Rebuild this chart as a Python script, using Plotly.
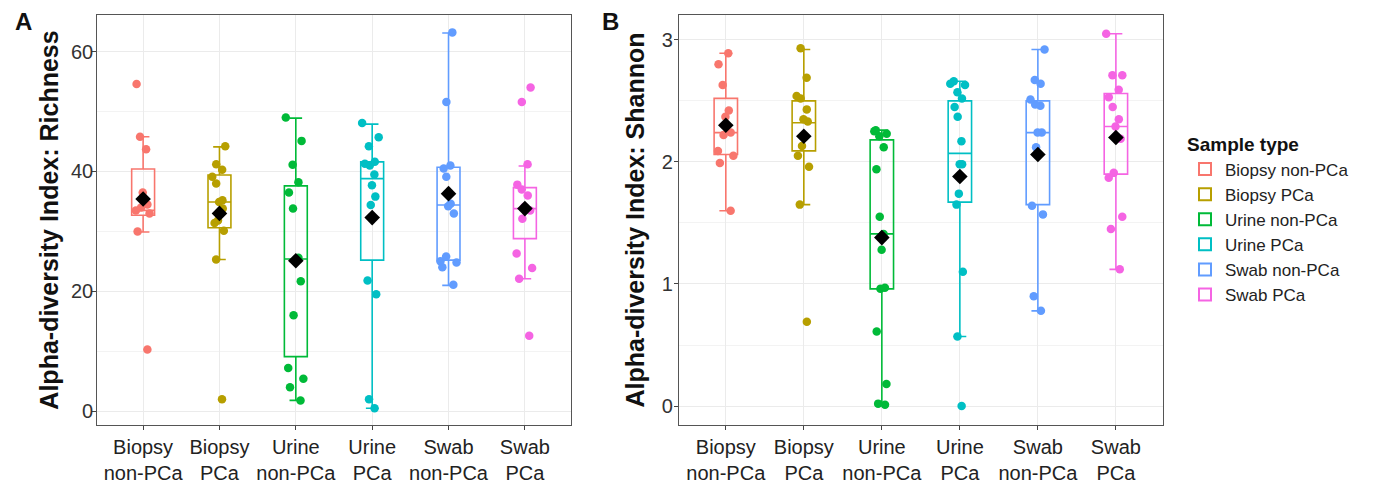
import plotly.graph_objects as go

# ---------------- data ----------------
categories = ["Biopsy<br>non-PCa", "Biopsy<br>PCa", "Urine<br>non-PCa",
              "Urine<br>PCa", "Swab<br>non-PCa", "Swab<br>PCa"]
legend_names = ["Biopsy non-PCa", "Biopsy PCa", "Urine non-PCa",
                "Urine PCa", "Swab non-PCa", "Swab PCa"]
colors = ["#F8766D", "#B79F00", "#00BA38", "#00BFC4", "#619CFF", "#F564E3"]

# Panel A: Richness (individual samples)
rich_biopsy_nonpca = [54.6, 45.8, 43.7, 36.5, 34.5, 34.0, 33.5, 33.0, 30.0, 10.3]
rich_biopsy_pca = [44.2, 41.2, 40.3, 39.1, 38.0, 35.2, 34.9, 33.8, 31.8, 31.4, 30.1, 25.3, 2.0]
rich_urine_nonpca = [49.0, 45.1, 41.1, 38.2, 36.5, 33.8, 25.6, 25.0, 21.7, 16.0, 7.2, 5.4, 4.0, 1.8]
rich_urine_pca = [48.1, 45.7, 44.2, 41.6, 41.3, 41.0, 39.5, 37.7, 35.8, 34.4, 21.8, 19.5, 2.0, 0.5]
rich_swab_nonpca = [63.2, 51.6, 41.0, 40.5, 39.1, 34.6, 34.2, 33.0, 25.8, 25.0, 24.8, 24.0, 21.1]
rich_swab_pca = [54.0, 51.6, 41.2, 37.8, 37.0, 36.0, 34.1, 33.5, 32.1, 26.3, 23.9, 22.1, 12.6]

# Panel A box statistics
rich_q1 = [32.7, 30.6, 9.1, 25.2, 25.2, 28.8]
rich_median = [33.5, 34.9, 25.4, 38.8, 34.4, 33.8]
rich_q3 = [40.4, 39.4, 37.6, 41.6, 40.7, 37.3]
rich_lower = [29.9, 25.3, 1.8, 0.5, 21.0, 22.1]
rich_upper = [45.8, 44.1, 48.9, 47.9, 63.1, 40.9]
rich_mean = [35.4, 33.0, 25.1, 32.3, 36.3, 33.8]

# Panel B: Shannon (individual samples)
shan_biopsy_nonpca = [2.89, 2.80, 2.63, 2.42, 2.37, 2.24, 2.22, 2.09, 2.05, 1.99, 1.60]
shan_biopsy_pca = [2.93, 2.69, 2.54, 2.52, 2.43, 2.35, 2.33, 2.13, 2.05, 1.96, 1.65, 0.69]
shan_urine_nonpca = [2.26, 2.25, 2.23, 2.21, 2.12, 1.94, 1.55, 1.41, 1.28, 0.97, 0.96, 0.61, 0.18, 0.02, 0.01]
shan_urine_pca = [2.66, 2.64, 2.63, 2.57, 2.52, 2.45, 2.37, 2.17, 1.98, 1.98, 1.74, 1.65, 1.10, 0.57, 0.0]
shan_swab_nonpca = [2.92, 2.67, 2.64, 2.51, 2.47, 2.46, 2.24, 2.24, 2.12, 1.64, 1.57, 0.90, 0.78]
shan_swab_pca = [3.05, 2.71, 2.71, 2.59, 2.53, 2.45, 2.35, 2.29, 2.19, 1.91, 1.87, 1.55, 1.45, 1.12]

# Panel B box statistics
shan_q1 = [2.06, 2.09, 0.96, 1.67, 1.65, 1.90]
shan_median = [2.24, 2.32, 1.41, 2.07, 2.24, 2.29]
shan_q3 = [2.52, 2.50, 2.18, 2.50, 2.50, 2.56]
shan_lower = [1.60, 1.65, 0.01, 0.57, 0.78, 1.12]
shan_upper = [2.89, 2.92, 2.26, 2.66, 2.92, 3.05]
shan_mean = [2.30, 2.21, 1.38, 1.88, 2.06, 2.20]

rich_points = [rich_biopsy_nonpca, rich_biopsy_pca, rich_urine_nonpca,
               rich_urine_pca, rich_swab_nonpca, rich_swab_pca]
shan_points = [shan_biopsy_nonpca, shan_biopsy_pca, shan_urine_nonpca,
               shan_urine_pca, shan_swab_nonpca, shan_swab_pca]

FONT = "Liberation Sans, Arial, sans-serif"
BOXW = 0.3

# page body has an 8px margin, so the figure is sized to fit the window
W, H = 1378, 478
OFF = 8
PLOT_TOP, PLOT_BOTTOM = 15.3 - OFF, 425 - OFF
PLOT_H = PLOT_BOTTOM - PLOT_TOP

fig = go.Figure()

panels = [
    ("x", "y", rich_points, rich_q1, rich_median, rich_q3, rich_lower, rich_upper, rich_mean, True),
    ("x2", "y2", shan_points, shan_q1, shan_median, shan_q3, shan_lower, shan_upper, shan_mean, False),
]

for xa, ya, pts, q1, med, q3, lo, hi, mn, show_leg in panels:
    for i, cat in enumerate(categories):
        fig.add_trace(go.Box(
            x=[cat], q1=[q1[i]], median=[med[i]], q3=[q3[i]],
            lowerfence=[lo[i]], upperfence=[hi[i]],
            name=legend_names[i], legendgroup=legend_names[i],
            showlegend=show_leg, boxpoints=False,
            line=dict(color=colors[i], width=1.6),
            fillcolor="rgba(255,255,255,0)",
            width=BOXW, whiskerwidth=0.55,
            xaxis=xa, yaxis=ya, hoverinfo="skip",
        ))
    for i, cat in enumerate(categories):
        fig.add_trace(go.Box(
            x=[cat] * len(pts[i]), y=pts[i],
            name=legend_names[i], legendgroup=legend_names[i],
            showlegend=False, boxpoints="all", jitter=0.9, pointpos=0,
            line=dict(color="rgba(0,0,0,0)", width=0),
            fillcolor="rgba(0,0,0,0)",
            marker=dict(color=colors[i], size=8.5, line=dict(width=0)),
            width=BOXW, xaxis=xa, yaxis=ya,
        ))
    fig.add_trace(go.Scatter(
        x=categories, y=mn, mode="markers",
        marker=dict(symbol="diamond", size=12, color="black"),
        showlegend=False, xaxis=xa, yaxis=ya, hoverinfo="skip",
    ))

axis_common = dict(
    showline=True, linecolor="#555555", linewidth=1.2, mirror=True,
    ticks="outside", ticklen=4, tickcolor="#444444", tickwidth=1,
    showgrid=True, gridcolor="#EBEBEB", gridwidth=1, zeroline=False,
    automargin=False,
)

fig.update_layout(
    width=W, height=H,
    margin=dict(l=0, r=0, t=PLOT_TOP, b=H - PLOT_BOTTOM, autoexpand=False),
    paper_bgcolor="white", plot_bgcolor="white",
    boxmode="overlay",
    font=dict(family=FONT, color="#222222"),
    xaxis=dict(domain=[(97.3 - OFF) / W, (570.7 - OFF) / W], type="category",
               categoryorder="array", categoryarray=categories,
               range=[-0.6, 5.6], tickfont=dict(size=20, color="#222222"),
               **axis_common),
    xaxis2=dict(domain=[(679 - OFF) / W, (1162.7 - OFF) / W], type="category",
                categoryorder="array", categoryarray=categories,
                range=[-0.6, 5.6], tickfont=dict(size=20, color="#222222"),
                anchor="y2", **axis_common),
    yaxis=dict(range=[-2.3, 66.1], tickvals=[0, 20, 40, 60],
               minor=dict(tickvals=[10, 30, 50], showgrid=True,
                          gridcolor="#F3F3F3", gridwidth=0.6, ticks=""),
               tickfont=dict(size=20, color="#333333"), ticklabelstandoff=-5,
               title=dict(text="<b>Alpha-diversity Index: Richness</b>",
                          font=dict(size=25, color="#111111"), standoff=5),
               **axis_common),
    yaxis2=dict(range=[-0.155, 3.203], tickvals=[0, 1, 2, 3], anchor="x2",
                minor=dict(tickvals=[0.5, 1.5, 2.5], showgrid=True,
                           gridcolor="#F3F3F3", gridwidth=0.6, ticks=""),
                tickfont=dict(size=20, color="#333333"), ticklabelstandoff=-3,
                title=dict(text="<b>Alpha-diversity Index: Shannon</b>",
                           font=dict(size=25, color="#111111"), standoff=10),
                **axis_common),
    legend=dict(
        x=(1185 - OFF) / W, y=1 - (127 - 15.3) / PLOT_H, xanchor="left", yanchor="top",
        title=dict(text="<b>Sample type</b>", font=dict(size=19, color="#111111")),
        font=dict(size=17, color="#222222"),
        tracegroupgap=0, itemsizing="constant", bgcolor="rgba(0,0,0,0)",
    ),
    annotations=[
        dict(text="<b>A</b>", x=(13 - OFF) / W, y=1 - (22 - 15.3) / PLOT_H,
             xref="paper", yref="paper",
             xanchor="left", yanchor="middle", showarrow=False,
             font=dict(size=24, color="#111111")),
        dict(text="<b>B</b>", x=(600 - OFF) / W, y=1 - (22 - 15.3) / PLOT_H,
             xref="paper", yref="paper",
             xanchor="left", yanchor="middle", showarrow=False,
             font=dict(size=24, color="#111111")),
    ],
)

fig.write_html("out.html")
